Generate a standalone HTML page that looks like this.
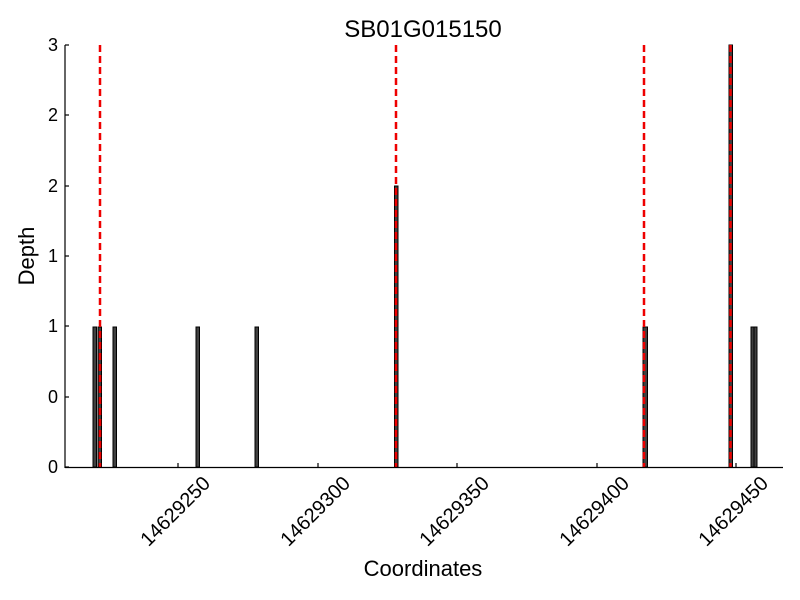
<!DOCTYPE html>
<html><head><style>body{margin:0;background:#fff}svg{display:block}</style></head><body>
<svg width="800" height="600" xmlns="http://www.w3.org/2000/svg" font-family="Liberation Sans, sans-serif">
<rect width="800" height="600" fill="#fff"/>
<g fill="#404040" stroke="#000" stroke-width="1">
<rect x="93" y="327" width="3.5" height="140"/>
<rect x="98" y="327" width="3.5" height="140"/>
<rect x="113" y="327" width="3.5" height="140"/>
<rect x="196" y="327" width="3.5" height="140"/>
<rect x="255" y="327" width="3.5" height="140"/>
<rect x="394.5" y="186" width="3.5" height="281"/>
<rect x="643" y="327" width="4.5" height="140"/>
<rect x="729" y="45" width="3.5" height="422"/>
<rect x="751" y="327" width="3" height="140"/>
<rect x="754" y="327" width="3" height="140"/>
</g>
<g stroke="#e00" stroke-width="2.5" stroke-dasharray="7,4">
<line x1="100" y1="45" x2="100" y2="467"/>
<line x1="396" y1="45" x2="396" y2="467"/>
<line x1="644" y1="45" x2="644" y2="467"/>
<line x1="730.5" y1="45" x2="730.5" y2="467"/>
</g>
<g stroke="#000" stroke-width="1.2">
<line x1="65" y1="45" x2="65" y2="468"/>
<line x1="65" y1="467.5" x2="783" y2="467.5"/>
<line x1="65" y1="467" x2="69" y2="467"/><line x1="65" y1="397" x2="69" y2="397"/>
<line x1="65" y1="326" x2="69" y2="326"/><line x1="65" y1="256" x2="69" y2="256"/>
<line x1="65" y1="186" x2="69" y2="186"/><line x1="65" y1="115" x2="69" y2="115"/>
<line x1="65" y1="45" x2="69" y2="45"/>
<line x1="178" y1="467" x2="178" y2="463"/><line x1="318" y1="467" x2="318" y2="463"/>
<line x1="457" y1="467" x2="457" y2="463"/><line x1="597" y1="467" x2="597" y2="463"/>
<line x1="736" y1="467" x2="736" y2="463"/>
</g>
<g font-size="18" text-anchor="end" fill="#000">
<text x="58" y="473">0</text><text x="58" y="403">0</text><text x="58" y="332">1</text>
<text x="58" y="262">1</text><text x="58" y="192">2</text><text x="58" y="121">2</text><text x="58" y="51">3</text>
</g>
<g font-size="20" text-anchor="middle" fill="#000">
<text transform="translate(175,511) rotate(-45)" y="7">14629250</text>
<text transform="translate(315,511) rotate(-45)" y="7">14629300</text>
<text transform="translate(454,511) rotate(-45)" y="7">14629350</text>
<text transform="translate(594,511) rotate(-45)" y="7">14629400</text>
<text transform="translate(733,511) rotate(-45)" y="7">14629450</text>
</g>
<text x="423" y="576" font-size="22" text-anchor="middle">Coordinates</text>
<text transform="translate(34,256) rotate(-90)" font-size="22" text-anchor="middle">Depth</text>
<text x="423" y="37" font-size="24" text-anchor="middle">SB01G015150</text>
</svg>
</body></html>
